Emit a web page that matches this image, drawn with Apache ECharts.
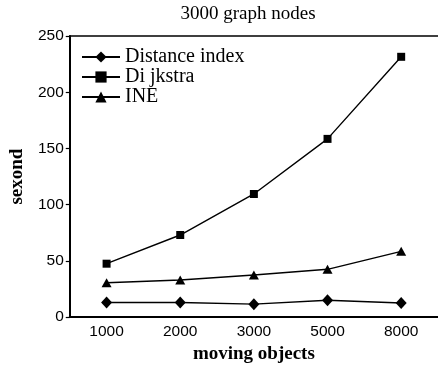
<!DOCTYPE html>
<html>
<head>
<meta charset="utf-8">
<script src="https://cdn.jsdelivr.net/npm/echarts@6/dist/echarts.min.js"></script>
<style>html,body{margin:0;padding:0;background:#fff}#c{width:438px;height:369px}</style>
</head>
<body>
<div id="c"></div>
<script>
const categories = ['1000', '2000', '3000', '5000', '8000'];
const distanceIndex = [13, 13, 11.5, 15, 12.5];
const dijkstra = [47.5, 73, 109.5, 158.5, 231.5];
const ine = [30.5, 33, 37.5, 42.5, 58.5];
const yTicks = { min: 0, max: 250, interval: 50 };

const chart = echarts.init(document.getElementById('c'));
const serif = '"Liberation Serif", "Times New Roman", serif';
const sans = '"Liberation Sans", Arial, sans-serif';
function lineSeries(name, data, symbol, size) {
  return {
    name: name, type: 'line', data: data, symbol: symbol, symbolSize: size,
    itemStyle: { color: '#000' }, lineStyle: { color: '#000', width: 1.4 },
    emphasis: { disabled: true }, animation: false
  };
}
chart.setOption({
  animation: false,
  title: {
    text: '3000 graph nodes', left: 248, top: 5, textAlign: 'center', padding: 0,
    textStyle: { fontFamily: serif, fontSize: 19, fontWeight: 'normal', color: '#000' }
  },
  legend: {
    orient: 'vertical', left: 81, top: 47, itemWidth: 38, itemHeight: 14, itemGap: 0, padding: 0,
    textStyle: { fontFamily: serif, fontSize: 20, color: '#000' },
    data: ['Distance index', 'Di jkstra', 'INE']
  },
  grid: { left: 63, right: -2, top: 36, bottom: 48 },
  xAxis: [{
    type: 'category', data: categories, boundaryGap: true,
    name: 'moving objects', nameLocation: 'middle', nameGap: 24,
    nameTextStyle: { fontFamily: serif, fontSize: 19, fontWeight: 'bold', color: '#000' },
    axisLine: { lineStyle: { color: '#000', width: 2 } },
    axisTick: { inside: true, length: 4, lineStyle: { color: '#000', width: 1.2 } },
    axisLabel: { margin: 7, fontFamily: sans, fontSize: 15.5, color: '#000' },
    splitLine: { show: false }
  }, {
    type: 'category', data: categories, position: 'top', boundaryGap: true,
    axisLine: { lineStyle: { color: '#000', width: 1.5 } },
    axisTick: { show: false }, axisLabel: { show: false }, splitLine: { show: false }
  }],
  yAxis: {
    type: 'value', min: yTicks.min, max: yTicks.max, interval: yTicks.interval,
    name: 'sexond', nameLocation: 'middle', nameGap: 37,
    nameTextStyle: { fontFamily: serif, fontSize: 19, fontWeight: 'bold', color: '#000' },
    axisLine: { show: true, lineStyle: { color: '#000', width: 2 } },
    axisTick: { show: true, inside: false, length: 4, lineStyle: { color: '#000', width: 1.2 } },
    axisLabel: { margin: 6, fontFamily: sans, fontSize: 15.5, color: '#000' },
    splitLine: { show: false }
  },
  series: [
    lineSeries('Distance index', distanceIndex, 'diamond', [11, 12]),
    lineSeries('Di jkstra', dijkstra, 'rect', 8),
    lineSeries('INE', ine, 'triangle', [10, 9])
  ]
});
</script>
</body>
</html>
